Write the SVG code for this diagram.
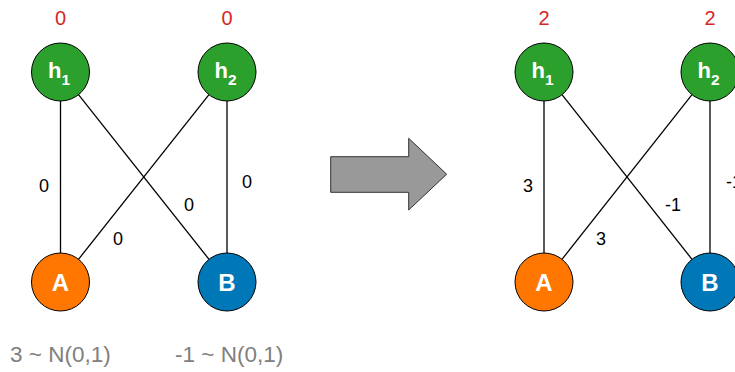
<svg xmlns="http://www.w3.org/2000/svg" width="735" height="372" viewBox="0 0 735 372">
<style>
.node{stroke:#000;stroke-width:1}
.h{fill:#2ca02c}
.a{fill:#ff7700}
.b{fill:#0077b6}
.nl{font-family:"Liberation Sans",Arial,sans-serif;font-weight:bold;font-size:22px;fill:#fff;text-anchor:middle}
.big{font-size:24px}
.sub{font-size:15.5px}
.red{font-family:"Liberation Sans",Arial,sans-serif;font-size:20px;fill:#d62728;text-anchor:middle}
.el{font-family:"Liberation Sans",Arial,sans-serif;font-size:18px;fill:#000;text-anchor:middle}
.bt{font-family:"Liberation Sans",Arial,sans-serif;font-size:22.5px;fill:#808080}
.edge{stroke:#000;stroke-width:1.3;fill:none}
</style>
<rect width="735" height="372" fill="#fff"/>
<g id="connectors">
<line class="edge" x1="60.5" y1="101" x2="60.5" y2="253"/>
<line class="edge" x1="78.5" y1="94.7" x2="209" y2="259.3"/>
<line class="edge" x1="209" y1="94.7" x2="78.5" y2="259.3"/>
<line class="edge" x1="227" y1="101" x2="227" y2="253"/>
<line class="edge" x1="544" y1="101" x2="544" y2="253"/>
<line class="edge" x1="562" y1="94.7" x2="692" y2="259.3"/>
<line class="edge" x1="692" y1="94.7" x2="562" y2="259.3"/>
<line class="edge" x1="710" y1="101" x2="710" y2="253"/>
</g>
<g id="edge-labels">
<text class="el" x="44" y="192">0</text>
<text class="el" x="189" y="211">0</text>
<text class="el" x="118" y="245">0</text>
<text class="el" x="247" y="187.5">0</text>
<text class="el" x="528" y="192">3</text>
<text class="el" x="673" y="211">-1</text>
<text class="el" x="601" y="245">3</text>
<text class="el" x="734" y="187.5">-1</text>
</g>
<g id="left-h1"><text class="red" x="60.5" y="24.5">0</text><circle class="node h" cx="60.5" cy="72" r="29"/><text class="nl" x="59" y="77.5">h<tspan class="sub" dy="7">1</tspan></text></g>
<g id="left-h2"><text class="red" x="227" y="24.5">0</text><circle class="node h" cx="227" cy="72" r="29"/><text class="nl" x="225.5" y="77.5">h<tspan class="sub" dy="7">2</tspan></text></g>
<g id="left-A"><circle class="node a" cx="60.5" cy="282" r="29"/><text class="nl big" x="60.5" y="290.5">A</text></g>
<g id="left-B"><circle class="node b" cx="227" cy="282" r="29"/><text class="nl big" x="227" y="290.5">B</text></g>
<g id="right-h1"><text class="red" x="544" y="24.5">2</text><circle class="node h" cx="544" cy="72" r="29"/><text class="nl" x="542.5" y="77.5">h<tspan class="sub" dy="7">1</tspan></text></g>
<g id="right-h2"><text class="red" x="710" y="24.5">2</text><circle class="node h" cx="710" cy="72" r="29"/><text class="nl" x="708.5" y="77.5">h<tspan class="sub" dy="7">2</tspan></text></g>
<g id="right-A"><circle class="node a" cx="544" cy="282" r="29"/><text class="nl big" x="544" y="290.5">A</text></g>
<g id="right-B"><circle class="node b" cx="710" cy="282" r="29"/><text class="nl big" x="710" y="290.5">B</text></g>
<g id="arrow"><polygon points="330.7,156.7 408.7,156.7 408.7,138.3 446.7,174.2 408.7,210 408.7,192.3 330.7,192.3" fill="#999999" stroke="#333333" stroke-width="1"/></g>
<g id="bottom-labels">
<text class="bt" x="10" y="362">3 ~ N(0,1)</text>
<text class="bt" x="175" y="362">-1 ~ N(0,1)</text>
</g>
</svg>
